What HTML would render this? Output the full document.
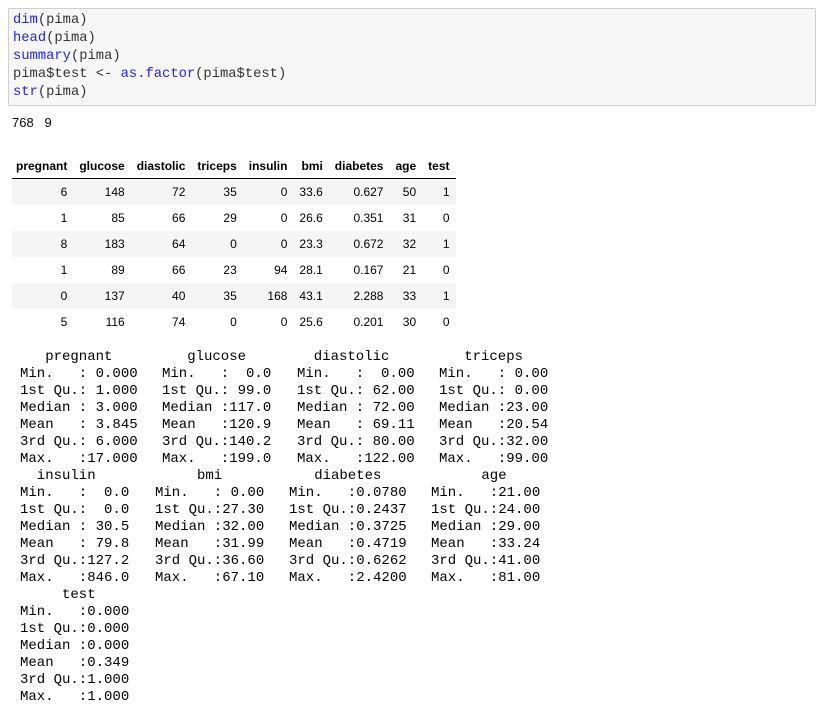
<!DOCTYPE html>
<html><head><meta charset="utf-8">
<style>
body{margin:0;width:825px;height:706px;background:#fff;position:relative;overflow:hidden;font-family:"Liberation Sans",sans-serif;}
.code{position:absolute;left:8px;top:8px;width:806px;height:96px;background:#f7f7f7;border:1px solid #cfcfcf;border-radius:2px;}
.code pre{margin:0;position:absolute;left:4px;top:3px;font-family:"Liberation Mono",monospace;font-size:13.8px;line-height:18px;color:#333;}
.k{color:#2222ee}
.dim{position:absolute;left:12px;top:115px;font-size:13px;color:#000;}
table{position:absolute;left:12px;top:154px;border-collapse:collapse;font-size:12px;color:#000;}
th{font-weight:bold;text-align:right;padding:0 6px;height:24px;border-bottom:1px solid #000;}
td{text-align:right;padding:0 6px;height:26px;}
tr.s td{background:#f5f5f5;}
.m{position:absolute;margin:0;font-family:"Liberation Mono",monospace;font-size:14px;line-height:17px;color:#000;white-space:pre;}
</style></head><body>
<div class="code"><pre><span class="k">dim</span>(pima)
<span class="k">head</span>(pima)
<span class="k">summary</span>(pima)
pima$test &lt;- <span class="k">as.factor</span>(pima$test)
<span class="k">str</span>(pima)</pre></div>
<div class="dim">768&nbsp;&nbsp;&nbsp;9</div>
<table>
<tr><th style="padding-left:4px">pregnant</th><th>glucose</th><th>diastolic</th><th>triceps</th><th>insulin</th><th>bmi</th><th>diabetes</th><th>age</th><th>test</th></tr>
<tr class="s"><td>6</td><td>148</td><td>72</td><td>35</td><td>0</td><td>33.6</td><td>0.627</td><td>50</td><td>1</td></tr>
<tr><td>1</td><td>85</td><td>66</td><td>29</td><td>0</td><td>26.6</td><td>0.351</td><td>31</td><td>0</td></tr>
<tr class="s"><td>8</td><td>183</td><td>64</td><td>0</td><td>0</td><td>23.3</td><td>0.672</td><td>32</td><td>1</td></tr>
<tr><td>1</td><td>89</td><td>66</td><td>23</td><td>94</td><td>28.1</td><td>0.167</td><td>21</td><td>0</td></tr>
<tr class="s"><td>0</td><td>137</td><td>40</td><td>35</td><td>168</td><td>43.1</td><td>2.288</td><td>33</td><td>1</td></tr>
<tr><td>5</td><td>116</td><td>74</td><td>0</td><td>0</td><td>25.6</td><td>0.201</td><td>30</td><td>0</td></tr>
</table>
<pre class="m" style="left:20px;top:349px">   pregnant
Min.   : 0.000
1st Qu.: 1.000
Median : 3.000
Mean   : 3.845
3rd Qu.: 6.000
Max.   :17.000</pre>
<pre class="m" style="left:162px;top:349px">   glucose
Min.   :  0.0
1st Qu.: 99.0
Median :117.0
Mean   :120.9
3rd Qu.:140.2
Max.   :199.0</pre>
<pre class="m" style="left:297px;top:349px">  diastolic
Min.   :  0.00
1st Qu.: 62.00
Median : 72.00
Mean   : 69.11
3rd Qu.: 80.00
Max.   :122.00</pre>
<pre class="m" style="left:439px;top:349px">   triceps
Min.   : 0.00
1st Qu.: 0.00
Median :23.00
Mean   :20.54
3rd Qu.:32.00
Max.   :99.00</pre>
<pre class="m" style="left:20px;top:468px">  insulin
Min.   :  0.0
1st Qu.:  0.0
Median : 30.5
Mean   : 79.8
3rd Qu.:127.2
Max.   :846.0</pre>
<pre class="m" style="left:155px;top:468px">     bmi
Min.   : 0.00
1st Qu.:27.30
Median :32.00
Mean   :31.99
3rd Qu.:36.60
Max.   :67.10</pre>
<pre class="m" style="left:289px;top:468px">   diabetes
Min.   :0.0780
1st Qu.:0.2437
Median :0.3725
Mean   :0.4719
3rd Qu.:0.6262
Max.   :2.4200</pre>
<pre class="m" style="left:431px;top:468px">      age
Min.   :21.00
1st Qu.:24.00
Median :29.00
Mean   :33.24
3rd Qu.:41.00
Max.   :81.00</pre>
<pre class="m" style="left:20px;top:587px">     test
Min.   :0.000
1st Qu.:0.000
Median :0.000
Mean   :0.349
3rd Qu.:1.000
Max.   :1.000</pre>
</body></html>
